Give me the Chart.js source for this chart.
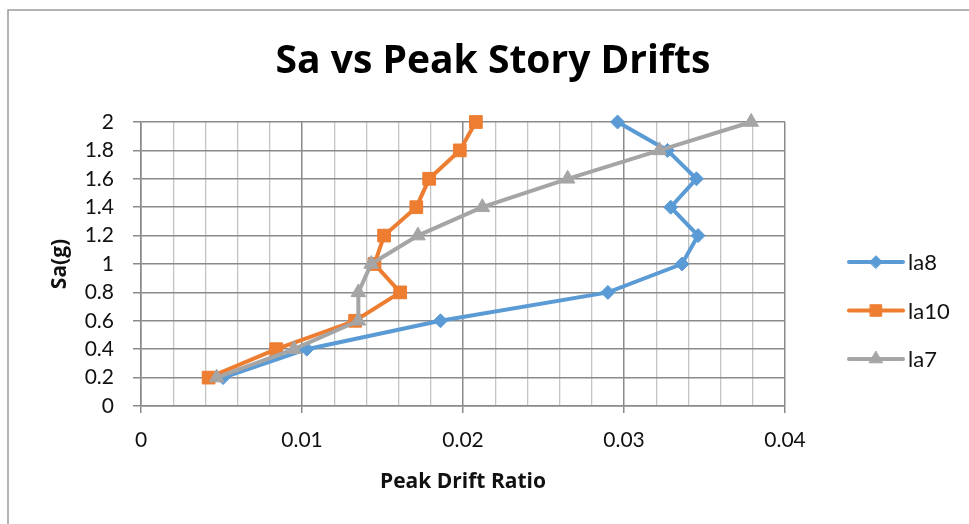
<!DOCTYPE html>
<html>
<head>
<meta charset="utf-8">
<title>Sa vs Peak Story Drifts</title>
<script src="https://cdn.jsdelivr.net/npm/chart.js@4/dist/chart.umd.min.js"></script>
<style>
  html, body { margin: 0; padding: 0; background: #ffffff; }
  #wrap { width: 969px; height: 524px; position: relative; }
  canvas { display: block; }
</style>
</head>
<body>
<div id="wrap"><canvas id="chart" width="969" height="524"></canvas></div>
<script>
// Spectral acceleration levels (g) shared by every record
const saLevels = [0.2, 0.4, 0.6, 0.8, 1.0, 1.2, 1.4, 1.6, 1.8, 2.0];

// Peak story drift ratio per record at each Sa level
const driftLa8  = [0.0051, 0.0103, 0.0186, 0.0290, 0.0336, 0.0346, 0.0329, 0.0345, 0.0327, 0.0296];
const driftLa10 = [0.0042, 0.0084, 0.0133, 0.0161, 0.0145, 0.0151, 0.0171, 0.0179, 0.0198, 0.0208];
const driftLa7  = [0.0047, 0.0095, 0.0135, 0.0135, 0.0143, 0.0172, 0.0212, 0.0265, 0.0322, 0.0379];

const seriesNames = ['la8', 'la10', 'la7'];

// Axis tick labels
const xTickLabels = ['0', '0.01', '0.02', '0.03', '0.04'];
const yTickLabels = ['0', '0.2', '0.4', '0.6', '0.8', '1', '1.2', '1.4', '1.6', '1.8', '2'];

const chartTitle = 'Sa vs Peak Story Drifts';

const FONT = 'Lato, "Open Sans", "DejaVu Sans", sans-serif';
const BOLD_FONT = '"Open Sans", Lato, "DejaVu Sans", sans-serif';
const MAJOR_GRID = '#8a8a8a';
const MINOR_GRID = '#c4c4c4';

function pairs(xs) {
  return xs.map((x, i) => ({ x: x, y: saLevels[i] }));
}

function isMajorX(v) {
  return Math.abs(v * 100 - Math.round(v * 100)) < 1e-6;
}

const styles = [
  { color: '#5B9BD5', pointStyle: 'rectRot', radius: 7 },
  { color: '#ED7D31', pointStyle: 'rect', radius: 9 },
  { color: '#A5A5A5', pointStyle: 'triangle', radius: 8.5 }
];

const seriesData = [driftLa8, driftLa10, driftLa7];

const datasets = seriesData.map((d, i) => ({
  label: seriesNames[i],
  data: pairs(d),
  showLine: true,
  borderColor: styles[i].color,
  backgroundColor: styles[i].color,
  pointBackgroundColor: styles[i].color,
  pointBorderColor: styles[i].color,
  pointBorderWidth: 1,
  pointStyle: styles[i].pointStyle,
  pointRadius: styles[i].radius,
  pointHoverRadius: styles[i].radius,
  borderWidth: 4,
  tension: 0,
  clip: false,
  order: seriesData.length - i
}));

// Outer chart frame (left and top edges) and the centred chart title
const framePlugin = {
  id: 'frame',
  beforeDraw(chart) {
    const ctx = chart.ctx;
    ctx.save();
    ctx.strokeStyle = '#9c9c9c';
    ctx.lineWidth = 1.5;
    ctx.beginPath();
    ctx.moveTo(8, chart.height + 2);
    ctx.lineTo(8, 10);
    ctx.lineTo(chart.width + 2, 10);
    ctx.stroke();

    ctx.fillStyle = '#000000';
    ctx.font = 'bold 39px ' + BOLD_FONT;
    ctx.textAlign = 'center';
    ctx.textBaseline = 'middle';
    ctx.fillText(chartTitle, 493, 62);
    ctx.restore();
  }
};

// Legend with a line segment and marker for each series
const lineLegendPlugin = {
  id: 'lineLegend',
  afterDraw(chart) {
    const ctx = chart.ctx;
    const x0 = 849, x1 = 903, textX = 908;
    const yStart = 262, gap = 48.5;
    chart.data.datasets.forEach((ds, i) => {
      const y = yStart + i * gap;
      ctx.save();
      ctx.strokeStyle = ds.borderColor;
      ctx.lineWidth = 4;
      ctx.lineCap = 'round';
      ctx.beginPath();
      ctx.moveTo(x0, y);
      ctx.lineTo(x1, y);
      ctx.stroke();
      ctx.fillStyle = ds.pointBackgroundColor;
      ctx.strokeStyle = ds.pointBorderColor;
      ctx.lineWidth = 1;
      const r = ds.pointRadius * 0.9;
      if (Chart.helpers && Chart.helpers.drawPoint) {
        Chart.helpers.drawPoint(ctx, { pointStyle: ds.pointStyle, radius: r, rotation: 0, borderWidth: 1 }, (x0 + x1) / 2, y);
      }
      ctx.fillStyle = '#111111';
      ctx.font = '22px ' + FONT;
      ctx.textAlign = 'left';
      ctx.textBaseline = 'middle';
      ctx.fillText(ds.label, textX, y + 1);
      ctx.restore();
    });
  }
};

new Chart(document.getElementById('chart'), {
  type: 'scatter',
  data: { datasets: datasets },
  plugins: [framePlugin, lineLegendPlugin],
  options: {
    responsive: false,
    animation: false,
    devicePixelRatio: 1,
    layout: { padding: { left: 0, right: 184, top: 122, bottom: 0 } },
    plugins: {
      legend: { display: false },
      tooltip: { enabled: false },
      title: { display: false }
    },
    scales: {
      x: {
        type: 'linear',
        min: 0,
        max: 0.04,
        afterFit(scale) { scale.height = 118; },
        ticks: {
          stepSize: 0.002,
          autoSkip: false,
          maxRotation: 0,
          padding: 15,
          color: '#111111',
          font: { family: FONT, size: 21 },
          callback(value) {
            if (!isMajorX(value)) return '';
            return xTickLabels[Math.round(value * 100)];
          }
        },
        grid: {
          color: (c) => (c.tick && isMajorX(c.tick.value)) ? MAJOR_GRID : MINOR_GRID,
          lineWidth: (c) => (c.tick && isMajorX(c.tick.value)) ? 1.5 : 1.3,
          tickColor: (c) => (c.tick && isMajorX(c.tick.value)) ? MAJOR_GRID : 'rgba(0,0,0,0)',
          tickLength: 7,
          drawTicks: true
        },
        border: { display: true, color: MAJOR_GRID, width: 1.5 },
        title: {
          display: true,
          text: 'Peak Drift Ratio',
          color: '#111111',
          font: { family: BOLD_FONT, size: 21, weight: 'bold', lineHeight: 1.2 },
          padding: { top: 0, bottom: 29 }
        }
      },
      y: {
        type: 'linear',
        min: 0,
        max: 2,
        afterFit(scale) { scale.width = 141; },
        ticks: {
          stepSize: 0.2,
          autoSkip: false,
          padding: 19,
          color: '#111111',
          font: { family: FONT, size: 21 },
          callback(value) {
            return yTickLabels[Math.round(value * 5)];
          }
        },
        grid: {
          color: MAJOR_GRID,
          lineWidth: 1.5,
          tickColor: MAJOR_GRID,
          tickLength: 8,
          drawTicks: true
        },
        border: { display: true, color: MAJOR_GRID, width: 1.5 },
        title: {
          display: true,
          text: 'Sa(g)',
          color: '#111111',
          font: { family: BOLD_FONT, size: 21, weight: 'bold', lineHeight: 1.2 },
          padding: { top: 47, bottom: 0 }
        }
      }
    }
  }
});
</script>
</body>
</html>
